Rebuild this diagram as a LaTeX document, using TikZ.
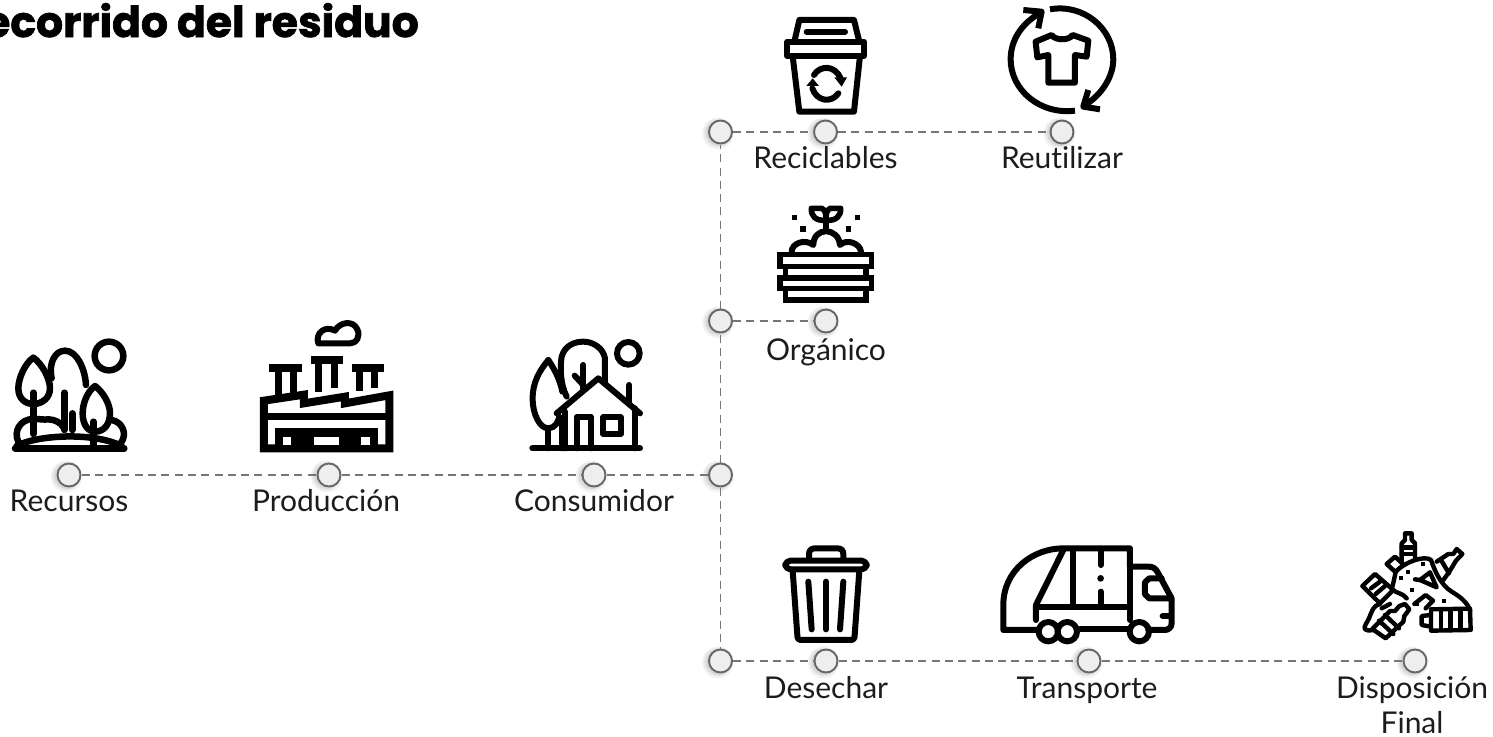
\documentclass[tikz,border=0pt]{standalone}
\usepackage{fontspec}
\setmainfont[Ligatures=NoCommon]{Lato}
\newfontfamily\titlefont[FakeBold=1.6]{Poppins}
\definecolor{linegrey}{HTML}{777777}
\definecolor{ringgrey}{HTML}{666666}
\definecolor{dotfill}{HTML}{EEEEEE}
\definecolor{labelink}{HTML}{1C1C1C}
\tikzset{
  dotnode/.style={circle,draw=ringgrey,fill=dotfill,line width=1.9pt,minimum size=23pt,inner sep=0pt,outer sep=1pt},
  conn/.style={draw=linegrey,line width=1.9pt,dash pattern=on 8pt off 5.3pt},
  lbl/.style={anchor=base,inner sep=0pt,text=labelink,font=\fontsize{30}{36}\selectfont,align=center},
  zoomed/.style={x=0.3333pt,y=-0.3333pt},
  ico/.style={draw=black,line width=6pt,line join=round,line cap=round},
  icosq/.style={draw=black,line width=7pt,line join=miter,line cap=butt},
  icothin/.style={draw=black,line width=5.2pt,line join=round,line cap=round},
  dumpline/.style={draw=black,line width=4.4pt,line join=round,line cap=round},
}
\newcommand{\dotn}[3]{%
  \fill[black,opacity=.04] (#2-2.5,#3+1.5) circle[radius=16];
  \fill[black,opacity=.05] (#2-2.5,#3+1) circle[radius=14.5];
  \fill[black,opacity=.08] (#2-2,#3+1) circle[radius=13];
  \node[dotnode] (#1) at (#2,#3) {};
}
\begin{document}
\begin{tikzpicture}[x=1pt,y=-1pt]
\useasboundingbox (0,0) rectangle (1493,736);

% title
\node[anchor=base east,inner sep=0pt,font=\titlefont\fontsize{42.5}{48}\selectfont\bfseries] (title) at (419,37) {Recorrido del residuo};

% dots
\dotn{recursos}{69}{475}
\dotn{produccion}{329}{475}
\dotn{consumidor}{594}{475}
\dotn{junction}{720.5}{475}
\dotn{jtop}{720.5}{132}
\dotn{reciclables}{825.5}{132}
\dotn{reutilizar}{1062}{132}
\dotn{jorg}{720.5}{321}
\dotn{organico}{826}{321}
\dotn{jbot}{720.5}{661}
\dotn{desechar}{826}{661}
\dotn{transporte}{1089}{661}
\dotn{disposicion}{1415}{661}

% connectors
\draw[conn] (recursos) -- (produccion);
\draw[conn] (produccion) -- (consumidor);
\draw[conn] (consumidor) -- (junction);
\draw[conn] (junction) -- (jorg);
\draw[conn] (jorg) -- (jtop);
\draw[conn] (junction) -- (jbot);
\draw[conn] (jtop) -- (reciclables);
\draw[conn] (reciclables) -- (reutilizar);
\draw[conn] (jorg) -- (organico);
\draw[conn] (jbot) -- (desechar);
\draw[conn] (desechar) -- (transporte);
\draw[conn] (transporte) -- (disposicion);

% labels
\node[lbl] (lrec) at (69,511) {Recursos};
\node[lbl] (lpro) at (326,511) {Producción};
\node[lbl] (lcon) at (594,511) {Consumidor};
\node[lbl] (lrcl) at (825.5,168) {Reciclables};
\node[lbl] (lreu) at (1062,168) {Reutilizar};
\node[lbl] (lorg) at (826,360) {Orgánico};
\node[lbl] (ldes) at (826,698) {Desechar};
\node[lbl] (ltra) at (1087,698) {Transporte};
\node[lbl] (ldis) at (1412,698) {Disposición};
\node[lbl] (ldis2) at (1412,733) {Final};

% ---- trees
\begin{scope}[shift={(0,320)},zoomed]
\draw[ico,line width=6.5pt] (327,108) circle[radius=43];
\draw[ico,line width=6.5pt] (100,113) .. controls (75,130) and (55,175) .. (55,205) .. controls (55,235) and (75,252) .. (100,252) .. controls (125,252) and (150,235) .. (150,205) .. controls (150,175) and (125,130) .. (100,113);
\draw[ico,line width=6.5pt] (155,175) .. controls (145,130) and (165,92) .. (195,92) .. controls (230,92) and (255,145) .. (258,195);
\draw[ico,line width=6.5pt] (100,218) -- (100,342);
\draw[ico,line width=6.5pt] (193,218) -- (193,330);
\draw[ico,line width=6.5pt] (217,280) -- (217,330);
\draw[ico,line width=6.5pt] (55,365) .. controls (40,335) and (60,297) .. (100,297) .. controls (125,297) and (130,300) .. (145,298) .. controls (165,298) and (185,310) .. (190,322);
\draw[ico,line width=6.5pt] (335,300) .. controls (365,305) and (385,340) .. (362,370);
\draw[ico,line width=6.5pt,fill=white] (285,198) .. controls (262,215) and (248,250) .. (248,280) .. controls (248,315) and (265,335) .. (285,335) .. controls (310,335) and (330,315) .. (330,280) .. controls (330,250) and (308,215) .. (285,198);
\draw[ico,line width=6.5pt] (280,305) -- (280,385);
\draw[ico,line width=6.5pt] (50,378) .. controls (110,345) and (280,335) .. (365,378);
\draw[ico,line width=6.5pt] (45,385) -- (373,385);
\end{scope}

% ---- factory
\begin{scope}[shift={(0,320)},zoomed]
\draw[ico] (955,70) .. controls (945,40) and (975,15) .. (1005,32) .. controls (1020,5) and (1060,0) .. (1072,28) .. controls (1082,50) and (1070,70) .. (1050,70) -- cycle;
\draw[icosq,line width=7.8pt] (808,143) -- (905,143);
\draw[icosq] (835,143) -- (835,232);
\draw[icosq] (880,143) -- (880,225);
\draw[icosq,line width=7.8pt] (932,119) -- (1030,119);
\draw[icosq] (955,119) -- (955,215);
\draw[icosq] (1005,119) -- (1005,205);
\draw[icosq,line width=7.8pt] (1055,143) -- (1152,143);
\draw[icosq] (1080,143) -- (1080,212);
\draw[icosq] (1125,143) -- (1125,205);
\draw[icosq,line width=8pt] (792,385) -- (792,242) -- (912,224) -- (912,250) -- (1035,230) -- (1035,250) -- (1168,226) -- (1168,385) -- cycle;
\draw[icosq] (789,291) -- (1170,291);
\fill[black] (825,325) rectangle (1135,395);
\fill[white] (850,350) rectangle (873,375);
\fill[white] (943,350) rectangle (1017,375);
\fill[white] (1083,350) rectangle (1110,375);
\end{scope}

% ---- house
\begin{scope}[shift={(500,320)},zoomed]
\draw[ico] (385,100) circle[radius=34];
\draw[ico] (145,120) .. controls (120,150) and (98,185) .. (98,235) .. controls (98,285) and (120,325) .. (145,325) .. controls (165,325) and (175,305) .. (178,290);
\draw[ico] (145,120) .. controls (165,150) and (180,180) .. (187,215);
\draw[ico] (200,230) .. controls (180,190) and (180,140) .. (185,110) .. controls (195,75) and (225,65) .. (250,65) .. controls (280,65) and (310,85) .. (315,115) -- (315,185);
\draw[ico] (250,135) -- (250,205);
\draw[ico] (224,167) -- (250,195);
\draw[ico] (170,280) -- (295,175) -- (420,280);
\draw[ico] (195,275) -- (195,385);
\draw[ico] (405,265) -- (405,385);
\draw[ico] (388,195) -- (388,252);
\draw[ico] (230,385) -- (230,290) -- (272,290) -- (272,385);
\draw[ico] (310,292) rectangle (362,342);
\draw[ico] (145,325) -- (145,385);
\draw[ico] (185,300) -- (185,385);
\draw[ico] (97,385) -- (420,385);
\end{scope}

% ---- recycle bin
\begin{scope}[shift={(700,0)},zoomed]
\draw[ico] (283,125) -- (298,60) -- (462,60) -- (478,125);
\draw[ico] (320,95) -- (435,95);
\draw[ico] (262,125) rectangle (492,168);
\draw[ico] (278,168) -- (298,335) -- (462,335) -- (480,168);
\draw[ico] (342,225) .. controls (360,195) and (405,195) .. (422,235);
\fill[black] (403,232) -- (441,232) -- (425,260) -- cycle;
\draw[ico] (415,280) .. controls (395,310) and (350,305) .. (337,265);
\fill[black] (319,258) -- (357,258) -- (338,235) -- cycle;
\end{scope}

% ---- reuse
\begin{scope}[shift={(700,0)},zoomed]
\draw[ico,line cap=butt] (1050,28) .. controls (1150,10) and (1240,85) .. (1240,178) .. controls (1240,230) and (1205,285) .. (1155,315);
\draw[ico,line cap=butt] (1125,332) .. controls (1020,345) and (932,270) .. (932,178) .. controls (932,120) and (965,70) .. (1022,38);
\draw[ico,line cap=butt] (970,30) -- (1025,35) -- (1015,85);
\draw[ico,line cap=butt] (1165,270) -- (1150,320) -- (1200,328);
\draw[ico] (1055,105) .. controls (1065,122) and (1108,122) .. (1118,105) -- (1165,122) -- (1160,170) -- (1125,165) -- (1125,248) -- (1045,248) -- (1045,165) -- (1012,172) -- (1007,125) -- cycle;
\end{scope}

% ---- compost
\begin{scope}[shift={(750,195)},zoomed]
\fill[black] (125,60) rectangle (141,76);
\fill[black] (314,60) rectangle (330,76);
\fill[black] (151,94) rectangle (167,110);
\fill[black] (288,94) rectangle (304,110);
\draw[ico] (228,108) -- (228,80);
\draw[ico,line width=5.6pt] (228,76) .. controls (195,78) and (183,62) .. (184,40) -- (215,40) .. controls (228,44) and (228,62) .. (228,76);
\draw[ico,line width=5.6pt] (228,76) .. controls (260,78) and (273,62) .. (272,40) -- (241,40) .. controls (228,44) and (228,62) .. (228,76);
\draw[ico] (125,170) .. controls (125,145) and (165,130) .. (190,150) .. controls (190,95) and (265,95) .. (270,150) .. controls (290,130) and (330,145) .. (333,170);
\draw[icosq,line width=5.6pt] (90,178) rectangle (364,215);
\draw[icosq,line width=5.6pt] (107,215) -- (107,249);
\draw[icosq,line width=5.6pt] (348,215) -- (348,249);
\draw[icosq,line width=5.6pt] (90,249) rectangle (364,281);
\draw[icosq,line width=5.6pt] (107,281) rectangle (348,315);
\end{scope}

% ---- trash
\begin{scope}[shift={(770,530)},zoomed]
\draw[ico] (117,90) -- (117,72) .. controls (117,60) and (125,55) .. (135,55) -- (202,55) .. controls (212,55) and (220,60) .. (220,72) -- (220,90);
\draw[ico,rounded corners=5pt] (46,92) rectangle (290,118);
\draw[ico,rounded corners=3pt] (68,122) -- (83,330) -- (253,330) -- (268,122);
\draw[ico] (115,155) -- (125,298);
\draw[ico] (168,155) -- (168,298);
\draw[ico] (220,155) -- (210,298);
\end{scope}

% ---- truck
\begin{scope}[shift={(770,530)},zoomed]
\draw[ico] (800,300) -- (700,300) -- (700,225) .. controls (700,120) and (790,55) .. (880,55) -- (1080,55) -- (1080,110) -- (1135,110) .. controls (1150,110) and (1155,115) .. (1162,125) -- (1205,205) -- (1205,280) .. controls (1205,292) and (1195,300) .. (1185,300) -- (1135,300);
\draw[ico] (930,298) -- (1080,298);
\draw[ico] (835,305) circle[radius=29];
\draw[ico] (892,305) circle[radius=29];
\draw[ico] (1108,305) circle[radius=29];
\draw[ico] (880,60) -- (798,225) -- (798,270);
\draw[ico] (908,60) -- (908,230);
\draw[ico] (798,232) -- (1080,232);
\draw[ico] (1080,110) -- (1080,270);
\draw[ico] (992,65) -- (992,105);
\fill[black] (992,145) circle[radius=10];
\draw[ico] (992,185) -- (992,225);
\draw[ico] (1175,145) -- (1138,145) -- (1125,157) -- (1125,193) -- (1138,205) -- (1200,205);
\draw[ico] (1178,258) -- (1200,258);
\end{scope}

% ---- dump
\begin{scope}[shift={(1355,530)},zoomed]
% top bottle
\draw[dumpline] (140,100) -- (140,40) -- (150,30) -- (150,10) -- (170,10) -- (170,30) -- (180,40) -- (180,90);
\draw[dumpline] (140,52) -- (180,52);
\draw[dumpline] (140,72) -- (180,72);
% small box
\draw[dumpline] (120,125) -- (95,102) -- (120,80) -- (142,100);
% right bottle
\draw[dumpline] (245,95) -- (280,72) -- (295,72) -- (305,57) -- (322,72) -- (303,92) -- (285,122) -- (265,150);
\draw[dumpline] (258,90) -- (282,130);
% mound
\draw[dumpline] (122,125) .. controls (150,95) and (210,75) .. (228,90) .. controls (240,125) and (258,165) .. (290,185) .. controls (315,200) and (335,215) .. (345,240);
\draw[dumpline] (122,125) .. controls (118,145) and (115,160) .. (110,178) .. controls (125,190) and (145,190) .. (155,205);
% left box
\draw[dumpline] (22,168) -- (60,132) -- (115,180) -- (75,220) -- cycle;
\draw[dumpline] (48,175) -- (75,155);
\draw[dumpline] (62,192) -- (90,168);
% ground left
\draw[dumpline] (75,222) .. controls (55,225) and (50,245) .. (42,265) .. controls (35,280) and (25,290) .. (30,298) .. controls (35,303) and (45,302) .. (55,300);
\draw[dumpline] (80,235) -- (105,222);
% bottom bottle
\draw[dumpline,fill=white] (52,297) -- (105,243) -- (120,243) -- (133,228) -- (150,222) -- (163,238) -- (148,258) -- (145,275) -- (92,325) -- cycle;
\draw[dumpline] (72,272) -- (115,312);
\draw[dumpline] (90,255) -- (132,295);
% small bottle
\draw[dumpline] (178,222) -- (212,195) -- (234,212) -- (212,235);
% triangle
\draw[dumpline] (195,150) -- (225,127) -- (245,172) -- cycle;
\draw[dumpline] (180,148) -- (195,150);
% barrel
\draw[dumpline,fill=white] (228,238) -- (345,236) -- (347,300) -- (228,302) -- cycle;
\draw[dumpline] (258,238) -- (258,300);
\draw[dumpline] (287,238) -- (287,300);
\draw[dumpline] (317,238) -- (317,300);
\draw[dumpline] (228,255) -- (200,258) -- (200,285) -- (228,290);
\foreach \p/\q in {205/102,160/125,138/145,172/180,268/212,185/222}
  \fill[black] (\p-6,\q-6) rectangle (\p+6,\q+6);
\end{scope}
\end{tikzpicture}
\end{document}
